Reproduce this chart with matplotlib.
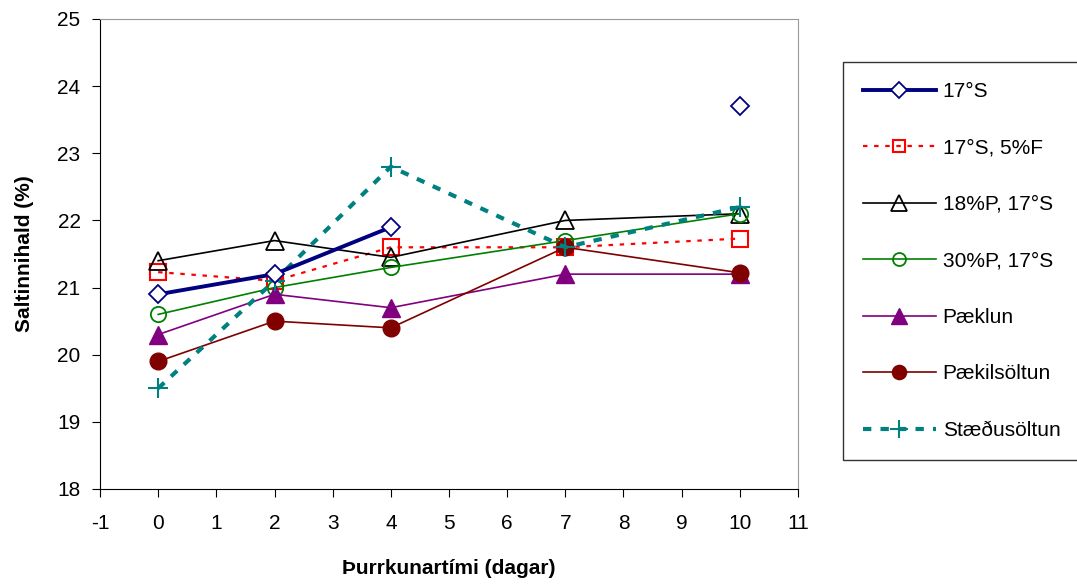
import matplotlib.pyplot as plt
import numpy as np

plt.rcParams['font.family'] = ['Liberation Sans', 'DejaVu Sans']
plt.rcParams['axes.unicode_minus'] = False

days = [0, 2, 4, 7, 10]

salt_17s = [20.9, 21.2, 21.9, np.nan, 23.7]
salt_17s_5f = [21.23, 21.1, 21.6, 21.6, 21.73]
salt_18p = [21.4, 21.7, 21.45, 22.0, 22.1]
salt_30p = [20.6, 21.0, 21.3, 21.7, 22.1]
paeklun = [20.3, 20.9, 20.7, 21.2, 21.2]
paekilsoltun = [19.9, 20.5, 20.4, 21.6, 21.22]
staedusoltun = [19.5, 21.1, 22.8, 21.6, 22.2]

labels = ["17°S", "17°S, 5%F", "18%P, 17°S", "30%P, 17°S",
          "Pæklun", "Pækilsöltun", "Stæðusöltun"]

fig = plt.figure(figsize=(10.77, 5.86), dpi=100)
ax = fig.add_axes([100 / 1077, 97 / 586, 698 / 1077, 470 / 586])

x = np.array(days)
s = np.array(salt_17s)
# the 17°S series is only joined where consecutive days have values
ax.plot(x[:3], s[:3], color="navy", lw=2.8, marker="D", ms=9, mfc="white",
        mec="navy", mew=1.3, label=labels[0], zorder=5)
ax.plot(x[3:], s[3:], ls="none", marker="D", ms=9, mfc="white", mec="navy",
        mew=1.3, zorder=5)
ax.plot(days, salt_17s_5f, color="red", lw=1.6, ls=(0, (2, 3)), marker="s",
        ms=11, mfc="none", mec="red", mew=1.5, label=labels[1])
ax.plot(days, salt_18p, color="black", lw=1.2, marker="^", ms=13, mfc="none",
        mec="black", mew=1.3, label=labels[2])
ax.plot(days, salt_30p, color="green", lw=1.2, marker="o", ms=11, mfc="none",
        mec="green", mew=1.3, label=labels[3])
ax.plot(days, paeklun, color="purple", lw=1.2, marker="^", ms=13,
        mfc="purple", mec="purple", label=labels[4])
ax.plot(days, paekilsoltun, color="maroon", lw=1.2, marker="o", ms=12,
        mfc="maroon", mec="maroon", label=labels[5])
ax.plot(days, staedusoltun, color="teal", lw=3, ls=(0, (2, 2.2)), marker="+",
        ms=15, mew=1.5, mec="teal", label=labels[6])

ax.set_xlim(-1, 11)
ax.set_ylim(18, 25)
ax.set_xticks(range(-1, 12))
ax.set_yticks(range(18, 26))
ax.tick_params(axis="both", direction="out", length=6, labelsize=15,
               colors="black")
ax.tick_params(axis="x", pad=12)
ax.tick_params(axis="y", pad=8)
ax.spines["top"].set_color("#999999")
ax.spines["right"].set_color("#999999")

ax.set_xlabel("Þurrkunartími (dagar)", fontsize=15, fontweight="bold")
ax.set_ylabel("Saltinnihald (%)", fontsize=15, fontweight="bold")
ax.xaxis.set_label_coords(0.5, -0.15)
ax.yaxis.set_label_coords(-0.095, 0.5)

leg = fig.legend(loc="upper left", bbox_to_anchor=(843 / 1077, 1 - 62 / 586),
                 bbox_transform=fig.transFigure, fontsize=15, frameon=True,
                 fancybox=False, edgecolor="black", labelspacing=1.8,
                 handlelength=3.5, handletextpad=0.33, borderpad=0.95,
                 borderaxespad=0, markerscale=0.85)
leg.get_frame().set_linewidth(1.0)

fig.savefig("out.png", dpi=100)
